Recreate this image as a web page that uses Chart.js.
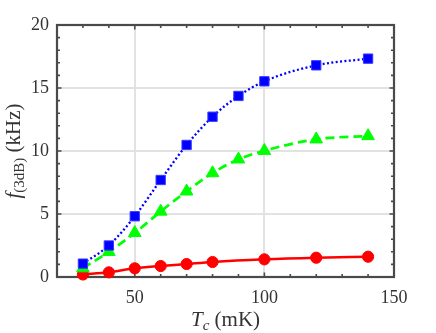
<!DOCTYPE html>
<html>
<head>
<meta charset="utf-8">
<script src="https://cdn.jsdelivr.net/npm/chart.js@4/dist/chart.umd.min.js"></script>
<style>
html,body{margin:0;padding:0;background:#fff;}
#wrap{width:436px;height:333px;}
</style>
</head>
<body>
<div id="wrap"><canvas id="c" width="436" height="333"></canvas></div>
<script>
// ---- data ----
const tcBlueGreen = [30, 40, 50, 60, 70, 80, 90, 100, 120, 140];
const blueValues  = [1.06, 2.5, 4.82, 7.7, 10.48, 12.72, 14.37, 15.53, 16.8, 17.33];
const greenValues = [0.7, 2.0, 3.5, 5.2, 6.8, 8.25, 9.34, 10.02, 10.93, 11.19];
const tcRed       = [30, 40, 50, 60, 70, 80, 100, 120, 140];
const redValues   = [0.2, 0.37, 0.69, 0.87, 1.03, 1.19, 1.40, 1.53, 1.61];
const xMajorTicks = [50, 100, 150];
const yMajorTicks = [0, 5, 10, 15, 20];

const pts = (xs, ys) => xs.map((x, i) => ({x: x, y: ys[i]}));
const SERIF = '"Liberation Serif", "DejaVu Serif", serif';
const TXT = '#333333';
const AXC = '#4a4a4a';

const boxPlugin = {
  id: 'box',
  beforeDatasetsDraw(chart) {
    const {ctx, chartArea: a, scales: {x, y}} = chart;
    ctx.save();
    ctx.strokeStyle = AXC;
    ctx.lineWidth = 1.6;
    // inside tick marks
    ctx.beginPath();
    x.ticks.forEach(t => {
      const px = x.getPixelForValue(t.value);
      const len = xMajorTicks.includes(t.value) ? 4.5 : 3;
      ctx.moveTo(px, a.bottom); ctx.lineTo(px, a.bottom - len);
      ctx.moveTo(px, a.top); ctx.lineTo(px, a.top + len);
    });
    y.ticks.forEach(t => {
      const py = y.getPixelForValue(t.value);
      const len = yMajorTicks.includes(t.value) ? 4.5 : 3;
      ctx.moveTo(a.left, py); ctx.lineTo(a.left + len, py);
      ctx.moveTo(a.right, py); ctx.lineTo(a.right - len, py);
    });
    ctx.stroke();
    ctx.lineWidth = 2.2;
    ctx.strokeRect(a.left, a.top, a.right - a.left, a.bottom - a.top);
    ctx.restore();
  },
  afterDraw(chart) {
    const {ctx, chartArea: a} = chart;
    ctx.save();
    ctx.fillStyle = TXT;
    ctx.textBaseline = 'alphabetic';
    // x title: T_c (mK)
    const parts = [
      {t: 'T', f: 'italic 21px ' + SERIF, dy: 0},
      {t: 'c', f: 'italic 15px ' + SERIF, dy: 3.5},
      {t: ' (mK)', f: '21px ' + SERIF, dy: 0}
    ];
    let w = 0;
    parts.forEach(p => { ctx.font = p.f; p.w = ctx.measureText(p.t).width; w += p.w; });
    let cx = (a.left + a.right) / 2 - w / 2;
    const by = 326;
    parts.forEach(p => { ctx.font = p.f; ctx.fillText(p.t, cx, by + p.dy); cx += p.w; });
    // y title: f_(3dB) (kHz)
    const yparts = [
      {t: 'f', f: 'italic 21px ' + SERIF, dy: 0},
      {t: '(3dB)', f: '15px ' + SERIF, dy: 4},
      {t: ' (kHz)', f: '21px ' + SERIF, dy: 0}
    ];
    let wy = 0;
    yparts.forEach(p => { ctx.font = p.f; p.w = ctx.measureText(p.t).width; wy += p.w; });
    ctx.translate(19.5, (a.top + a.bottom) / 2);
    ctx.rotate(-Math.PI / 2);
    let cy = -wy / 2;
    yparts.forEach(p => { ctx.font = p.f; ctx.fillText(p.t, cy, p.dy); cy += p.w; });
    ctx.restore();
  }
};

new Chart(document.getElementById('c'), {
  type: 'line',
  data: {
    datasets: [
      {
        data: pts(tcBlueGreen, blueValues),
        borderColor: '#0000ff', backgroundColor: '#0000ff',
        borderWidth: 2.3, borderDash: [2, 2.4],
        pointStyle: 'rect', pointRadius: 6.6, pointBorderWidth: 1,
        pointBorderColor: '#3a3aff',
        cubicInterpolationMode: 'monotone', order: 0, clip: false
      },
      {
        data: pts(tcBlueGreen, greenValues),
        borderColor: '#00ff00', backgroundColor: '#00ff00',
        borderWidth: 2.7, borderDash: [9, 5],
        pointStyle: 'triangle', pointRadius: 7.3, pointBorderWidth: 1,
        cubicInterpolationMode: 'monotone', order: 1, clip: false
      },
      {
        data: pts(tcRed, redValues),
        borderColor: '#ff0000', backgroundColor: '#ff0000',
        borderWidth: 2.5,
        pointStyle: 'circle', pointRadius: 5.6, pointBorderWidth: 1,
        cubicInterpolationMode: 'monotone', order: 2, clip: false
      }
    ]
  },
  options: {
    responsive: false,
    animation: false,
    events: [],
    layout: {padding: {left: 0, right: 42, top: 25, bottom: 0}},
    plugins: {legend: {display: false}, tooltip: {enabled: false}},
    scales: {
      x: {
        type: 'linear', min: 20, max: 150,
        afterFit: s => { s.height = 56; },
        border: {display: false},
        grid: {
          drawTicks: false,
          lineWidth: 2,
          color: c => (xMajorTicks.includes(c.tick.value) ? '#e2e2e2' : 'rgba(0,0,0,0)')
        },
        ticks: {
          stepSize: 10, autoSkip: false, maxRotation: 0, padding: 10,
          color: TXT, font: {family: SERIF, size: 18},
          callback: v => (xMajorTicks.includes(v) ? String(v) : '')
        }
      },
      y: {
        type: 'linear', min: 0, max: 20,
        afterFit: s => { s.width = 57; },
        border: {display: false},
        grid: {
          drawTicks: false,
          lineWidth: 2,
          color: c => (yMajorTicks.includes(c.tick.value) ? '#e2e2e2' : 'rgba(0,0,0,0)')
        },
        ticks: {
          stepSize: 1, autoSkip: false, padding: 8,
          color: TXT, font: {family: SERIF, size: 18},
          callback: v => (yMajorTicks.includes(v) ? String(v) : '')
        }
      }
    }
  },
  plugins: [boxPlugin]
});
</script>
</body>
</html>
